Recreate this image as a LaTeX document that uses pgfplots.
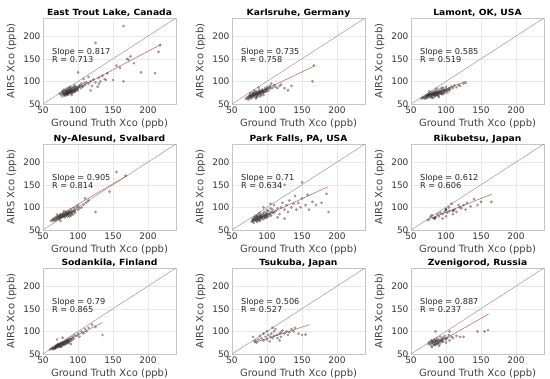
\documentclass[border=0pt]{standalone}
\usepackage{fontspec}
\setmainfont{DejaVu Sans}
\newfontfamily\titlefont[FakeStretch=1.08]{DejaVu Sans}
\usepackage{pgfplots}
\pgfplotsset{compat=1.18}
\definecolor{oneone}{RGB}{150,150,178}
\definecolor{regr}{RGB}{195,110,110}
\definecolor{pts}{RGB}{50,38,38}
\pgfplotsset{
 panel/.style={scale only axis, width=133pt, height=86pt,
  xmin=50,xmax=240,ymin=50,ymax=240,
  xtick={50,100,150,200}, ytick={50,100,150,200},
  grid=major, grid style={gray!18, line width=0.3pt},
  axis line style={gray!45, line width=0.4pt}, tick style={draw=none},
  tick label style={font=\fontsize{9}{10}\selectfont, text=black!80},
  xlabel={Ground Truth Xco (ppb)}, ylabel={AIRS Xco (ppb)},
  label style={font=\fontsize{10}{11}\selectfont, text=black!75},
  xlabel style={yshift=1pt}, ylabel style={yshift=0pt},
  xticklabel style={yshift=1pt}, yticklabel style={xshift=1pt},
  title style={font=\titlefont\bfseries\fontsize{8.5}{9}\selectfont, yshift=-8.5pt},
  anchor=north west, /pgf/number format/assume math mode=true,
  clip=true},
 onetoone/.style={oneone, line width=0.5pt, forget plot},
 reg/.style={regr, line width=0.6pt, forget plot},
 scat/.style={only marks, mark=*, mark size=1.2pt, mark options={draw=pts, fill=pts, fill opacity=0.34, draw opacity=0.4}, forget plot},
}
\newcommand{\stats}[2]{%
 \node[anchor=base west, font=\fontsize{8.2}{9}\selectfont, text=black!85] at (axis cs:58,160) {Slope = #1};
 \node[anchor=base west, font=\fontsize{8.2}{9}\selectfont, text=black!85] at (axis cs:58,142) {R = #2};
}
\begin{document}
\begin{tikzpicture}
\useasboundingbox (0,0) rectangle (550pt,-379pt);
% Row 1
\begin{axis}[panel, at={(43pt,-18pt)}, title={East Trout Lake, Canada}]
\addplot[scat] coordinates {(76,70) (78,72) (79,74) (80,71) (81,76) (82,73) (83,78) (84,75) (85,72) (85,80) (86,77) (87,74) (88,79) (88,83) (89,76) (90,81) (90,73) (91,78) (92,84) (93,80) (94,77) (95,86) (96,82) (97,79) (98,88) (99,84) (100,86) (78,79) (80,82) (82,68) (84,84) (86,70) (89,88) (92,75) (95,91) (74,73) (77,76) (83,71) (87,86) (91,70)
(79,77) (81,73) (82,80) (83,75) (84,78) (85,74) (86,79) (87,81) (88,75) (89,80) (90,77) (91,82) (92,79) (93,76) (94,83) (95,80) (96,78) (97,84) (98,82) (100,80) (80,69) (84,72) (87,77) (90,85) (93,87) (96,88) (101,88) (103,92) (106,90) (109,96)
(102,90) (104,85) (105,95) (107,88) (110,92) (112,98) (115,95) (118,100) (120,90) (122,104) (125,98) (128,88) (130,108) (132,100) (135,112) (138,105) (140,103) (142,118) (100,120) (108,105) (115,110) (125,185) (150,103) (160,130) (165,100) (165,222) (170,150) (172,148) (175,155) (180,140) (190,120) (210,118) (215,165) (155,135) (118,80) (130,95) (217,180)};
\addplot[onetoone] coordinates {(50,50) (240,240)};
\addplot[reg] coordinates {(75,64.4) (219,182)};
\stats{0.817}{0.713}
\end{axis}
\begin{axis}[panel, at={(232pt,-18pt)}, title={Karlsruhe, Germany}]
\addplot[scat] coordinates {(70,62) (72,65) (74,63) (75,68) (76,66) (77,70) (78,64) (79,72) (80,68) (80,75) (81,70) (82,66) (83,74) (84,71) (85,78) (85,65) (86,73) (87,69) (88,76) (89,80) (90,72) (90,67) (91,78) (92,74) (93,82) (94,76) (95,70) (96,80) (97,85) (98,77) (100,82) (100,88) (102,79) (104,90) (105,84) (106,95) (108,86) (110,92) (112,88) (115,85) (118,90) (120,93) (125,85) (130,80) (135,90) (165,100) (167,135) (82,80) (88,86) (76,74) (84,62)
(74,67) (76,70) (78,68) (79,66) (80,71) (81,74) (82,69) (83,71) (84,75) (85,72) (86,70) (87,76) (88,72) (89,74) (90,78) (91,75) (92,70) (93,78) (94,80) (95,75) (96,77) (98,82) (99,79) (101,84) (103,86) (73,60) (77,62) (86,66)};
\addplot[onetoone] coordinates {(50,50) (240,240)};
\addplot[reg] coordinates {(70,62) (167,133.3)};
\stats{0.735}{0.758}
\end{axis}
\begin{axis}[panel, at={(411pt,-18pt)}, title={Lamont, OK, USA}]
\addplot[scat] coordinates {(65,62) (67,65) (68,63) (70,66) (71,68) (72,64) (73,70) (74,67) (75,72) (76,69) (77,65) (78,71) (78,75) (79,68) (80,73) (80,66) (81,77) (82,70) (83,74) (84,68) (84,79) (85,72) (86,76) (87,70) (88,81) (88,74) (89,68) (90,77) (91,72) (92,83) (93,75) (94,79) (95,71) (96,85) (97,78) (98,74) (100,82) (100,88) (102,76) (104,84) (105,80) (108,88) (110,85) (112,91) (115,87) (118,92) (120,90) (125,95) (128,97) (86,84) (82,64) (90,65) (76,78) (94,86)
(72,68) (74,70) (75,66) (76,72) (77,70) (78,67) (79,73) (80,70) (81,72) (82,74) (83,70) (84,73) (85,76) (86,71) (87,74) (88,77) (89,72) (90,74) (91,78) (92,76) (93,72) (94,75) (95,79) (96,74) (97,81) (98,78) (99,80) (101,80) (103,82) (106,84) (70,62) (73,63) (80,63) (85,68) (88,70)};
\addplot[onetoone] coordinates {(50,50) (240,240)};
\addplot[reg] coordinates {(65,63) (128,99.9)};
\stats{0.585}{0.519}
\end{axis}
% Row 2
\begin{axis}[panel, at={(43pt,-144pt)}, title={Ny-Alesund, Svalbard}]
\addplot[scat] coordinates {(62,70) (64,72) (65,75) (67,73) (68,78) (70,76) (71,80) (72,74) (73,82) (74,79) (75,85) (76,77) (77,83) (78,80) (79,88) (80,84) (81,78) (82,86) (83,90) (84,82) (85,88) (86,85) (87,92) (88,80) (89,89) (90,95) (91,86) (92,90) (93,84) (94,98) (95,92) (96,88) (98,100) (100,95) (100,104) (102,98) (105,100) (108,106) (110,120) (112,110) (115,115) (125,90) (145,135) (155,178) (168,170) (70,84) (75,70) (80,92) (85,80) (90,82)
(68,72) (70,74) (72,78) (74,76) (76,82) (77,79) (78,84) (79,82) (80,80) (81,85) (82,82) (83,85) (84,88) (85,84) (86,89) (87,86) (88,90) (89,84) (90,88) (92,92) (94,90) (96,94) (66,70) (73,77) (75,80)};
\addplot[onetoone] coordinates {(50,50) (240,240)};
\addplot[reg] coordinates {(60,70.5) (170,170)};
\stats{0.905}{0.814}
\end{axis}
\begin{axis}[panel, at={(232pt,-144pt)}, title={Park Falls, PA, USA}]
\addplot[scat] coordinates {(78,68) (79,72) (80,75) (81,70) (82,78) (83,73) (84,80) (85,76) (85,70) (86,82) (87,74) (88,78) (88,85) (89,72) (90,80) (90,88) (91,76) (92,83) (93,79) (94,86) (95,74) (96,90) (97,82) (98,78) (99,88) (100,84) (100,94) (101,80) (102,92) (104,86) (105,98) (106,82) (108,95) (110,88) (110,105) (112,92) (115,98) (118,85) (120,100) (122,110) (125,95) (125,150) (128,105) (130,90) (132,115) (135,100) (138,108) (140,125) (142,95) (145,110) (148,100) (150,120) (150,155) (155,105) (158,128) (160,95) (165,112) (170,105) (178,110) (185,130) (188,90) (115,78) (125,75) (95,100) (105,108)
(80,72) (82,74) (83,76) (84,72) (85,80) (86,75) (87,78) (88,72) (89,80) (90,76) (91,82) (92,78) (93,75) (94,80) (95,84) (96,80) (97,77) (98,85) (99,82) (100,78) (102,86) (104,82) (106,90) (108,88) (81,66) (86,68) (90,70)};
\addplot[onetoone] coordinates {(50,50) (240,240)};
\addplot[reg] coordinates {(78,68) (187,145.4)};
\stats{0.71}{0.634}
\end{axis}
\begin{axis}[panel, at={(411pt,-144pt)}, title={Rikubetsu, Japan}]
\addplot[scat] coordinates {(75,72) (78,80) (80,83) (82,76) (84,75) (85,78) (88,85) (90,80) (92,88) (95,85) (98,90) (100,95) (100,80) (102,88) (104,100) (105,92) (108,108) (110,92) (112,95) (115,90) (118,105) (120,100) (122,98) (125,105) (128,95) (130,110) (135,102) (140,118) (145,105) (150,112) (165,112) (95,75) (110,85) (100,96) (100,94) (84,76) (110,93)};
\addplot[onetoone] coordinates {(50,50) (240,240)};
\addplot[reg] coordinates {(72,72) (166,129.5)};
\stats{0.612}{0.606}
\end{axis}
% Row 3
\begin{axis}[panel, at={(43pt,-268pt)}, title={Sodankila, Finland}]
\addplot[scat] coordinates {(60,60) (62,62) (64,64) (65,61) (66,66) (67,63) (68,68) (69,65) (70,70) (71,67) (72,72) (73,69) (74,66) (75,74) (76,71) (77,68) (78,76) (79,73) (80,70) (81,78) (82,75) (83,72) (84,80) (85,77) (86,82) (87,74) (88,85) (90,79) (92,88) (94,84) (95,92) (98,90) (100,95) (102,88) (105,100) (108,96) (110,105) (112,100) (115,108) (120,115) (125,110) (135,92) (70,82) (78,86) (90,72)
(64,61) (66,63) (68,64) (69,68) (70,66) (71,70) (72,68) (73,72) (74,70) (75,68) (76,74) (77,72) (78,70) (79,75) (80,73) (81,72) (82,78) (83,76) (84,74) (85,80) (86,76) (87,79) (88,78) (90,83) (92,82) (68,62) (72,65) (76,66)};
\addplot[onetoone] coordinates {(50,50) (240,240)};
\addplot[reg] coordinates {(62,62) (135,119.7)};
\stats{0.79}{0.865}
\end{axis}
\begin{axis}[panel, at={(232pt,-268pt)}, title={Tsukuba, Japan}]
\addplot[scat] coordinates {(80,88) (82,78) (84,80) (85,75) (88,82) (90,90) (92,85) (95,80) (95,95) (98,88) (100,82) (100,100) (102,92) (104,78) (105,88) (106,95) (108,85) (110,90) (110,100) (112,105) (114,92) (115,85) (118,95) (120,98) (120,88) (122,102) (125,95) (128,100) (130,92) (132,98) (135,105) (138,100) (140,108) (145,95) (150,92) (155,93) (108,108) (118,80)};
\addplot[onetoone] coordinates {(50,50) (240,240)};
\addplot[reg] coordinates {(82,75) (161,115)};
\stats{0.506}{0.527}
\end{axis}
\begin{axis}[panel, at={(411pt,-268pt)}, title={Zvenigorod, Russia}]
\addplot[scat] coordinates {(75,72) (76,76) (78,70) (79,80) (80,74) (81,78) (82,72) (83,82) (84,76) (85,70) (86,80) (87,85) (88,74) (89,78) (90,82) (91,72) (92,88) (93,80) (94,76) (95,84) (96,78) (98,90) (100,82) (100,75) (102,86) (104,92) (105,80) (108,88) (110,85) (115,90) (120,88) (125,88) (145,100) (155,100) (160,103) (85,100) (105,100) (80,65) (90,68)
(78,74) (80,78) (82,76) (84,80) (85,74) (86,78) (88,80) (90,76) (92,80) (94,82) (96,86) (83,70) (87,72) (99,85)};
\addplot[onetoone] coordinates {(50,50) (240,240)};
\addplot[reg] coordinates {(78,65) (161,138.6)};
\stats{0.887}{0.237}
\end{axis}
\end{tikzpicture}
\end{document}
